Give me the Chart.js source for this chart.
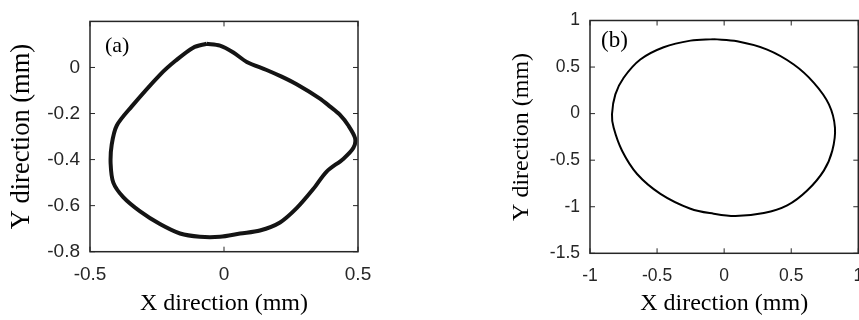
<!DOCTYPE html>
<html>
<head>
<meta charset="utf-8">
<script src="https://cdn.jsdelivr.net/npm/chart.js@4/dist/chart.umd.min.js"></script>
<style>
  html, body { margin: 0; padding: 0; background: #fff; overflow: hidden; }
  body { position: relative; width: 859px; height: 320px; }
  canvas { position: absolute; top: 0; }
  #orbitA { left: 0; }
  #orbitB { left: 430px; }
</style>
</head>
<body>
<canvas id="orbitA" width="430" height="320"></canvas>
<canvas id="orbitB" width="450" height="320"></canvas>
<script>
// (a) measured orbit, mm
var orbitAX = [-0.065, -0.015, 0.035, 0.085, 0.159, 0.215, 0.271, 0.358, 0.396, 0.432,
  0.464, 0.489, 0.483, 0.445, 0.383, 0.333, 0.271, 0.209, 0.134, 0.06,
  -0.015, -0.09, -0.164, -0.239, -0.313, -0.376, -0.413, -0.423, -0.419, -0.4,
  -0.345, -0.239, -0.18, -0.115, -0.065];
var orbitAY = [0.103, 0.095, 0.065, 0.024, -0.011, -0.04, -0.073, -0.135, -0.17, -0.205,
  -0.252, -0.307, -0.349, -0.397, -0.452, -0.528, -0.611, -0.673, -0.708, -0.721,
  -0.735, -0.735, -0.721, -0.68, -0.625, -0.563, -0.5, -0.418, -0.335, -0.252,
  -0.17, -0.032, 0.03, 0.086, 0.103];

// (b) simulated orbit, mm
var orbitBX = [-0.078, 0.097, 0.321, 0.519, 0.669, 0.781, 0.826, 0.806, 0.743, 0.619,
  0.47, 0.296, 0.084, -0.078, -0.251, -0.475, -0.649, -0.761, -0.824, -0.836,
  -0.811, -0.749, -0.625, -0.451, -0.251, -0.078];
var orbitBY = [0.80, 0.777, 0.688, 0.528, 0.331, 0.1, -0.15, -0.399, -0.612, -0.826,
  -0.986, -1.068, -1.1, -1.075, -1.021, -0.861, -0.648, -0.399, -0.15, -0.006,
  0.207, 0.385, 0.581, 0.713, 0.784, 0.80];

// axis limits and tick steps
var limitsA = { xMin: -0.5, xMax: 0.5, xStep: 0.5, yMin: -0.8, yMax: 0.2, yStep: 0.2, yLastLabel: 0 };
var limitsB = { xMin: -1, xMax: 1, xStep: 0.5, yMin: -1.5, yMax: 1, yStep: 0.5, yLastLabel: 1 };

var axisColor = '#262626';
var serif = '"Liberation Serif", "Times New Roman", serif';
var sans = '"Liberation Sans", Arial, sans-serif';

function toPoints(xs, ys) {
  return xs.map(function (x, i) { return { x: x, y: ys[i] }; });
}

// plain numbers: 1 instead of 1.0
function shortNum(v) {
  return String(Math.round(v * 100) / 100);
}

// box around the plot area with inward ticks on all four sides, plus the panel tag
var boxPlugin = {
  id: 'boxTicks',
  afterDraw: function (chart) {
    var ctx = chart.ctx, a = chart.chartArea;
    var xs = chart.scales.x, ys = chart.scales.y;
    var len = 5;
    ctx.save();
    ctx.strokeStyle = axisColor;
    ctx.lineWidth = 1.5;
    ctx.strokeRect(a.left, a.top, a.right - a.left, a.bottom - a.top);
    ctx.lineWidth = 1;
    ctx.beginPath();
    xs.ticks.forEach(function (t) {
      var px = xs.getPixelForValue(t.value);
      ctx.moveTo(px, a.bottom); ctx.lineTo(px, a.bottom - len);
      ctx.moveTo(px, a.top); ctx.lineTo(px, a.top + len);
    });
    ys.ticks.forEach(function (t) {
      var py = ys.getPixelForValue(t.value);
      ctx.moveTo(a.left, py); ctx.lineTo(a.left + len, py);
      ctx.moveTo(a.right, py); ctx.lineTo(a.right - len, py);
    });
    ctx.stroke();
    var tag = chart.options.plugins.boxTicks;
    ctx.fillStyle = '#000';
    ctx.font = tag.size + 'px ' + serif;
    ctx.textBaseline = 'middle';
    ctx.textAlign = 'left';
    ctx.fillText(tag.text, xs.getPixelForValue(tag.x), ys.getPixelForValue(tag.y));
    ctx.restore();
  }
};

function makeOrbit(id, xs, ys, lim, opts) {
  var tickFont = { family: sans, size: opts.tickSize };
  return new Chart(document.getElementById(id), {
    type: 'scatter',
    data: {
      datasets: [{
        data: toPoints(xs, ys),
        showLine: true,
        borderColor: opts.color,
        borderWidth: opts.width,
        tension: opts.tension,
        pointRadius: 0,
        fill: false
      }]
    },
    options: {
      responsive: false,
      animation: false,
      layout: { padding: opts.padding },
      plugins: {
        legend: { display: false },
        tooltip: { enabled: false },
        boxTicks: opts.tag
      },
      scales: {
        x: {
          type: 'linear',
          min: lim.xMin,
          max: lim.xMax,
          grid: { display: false, drawTicks: false },
          border: { display: false },
          ticks: { stepSize: lim.xStep, color: axisColor, font: tickFont, padding: 12, maxRotation: 0, callback: shortNum },
          title: { display: true, text: 'X direction (mm)', color: '#000', font: { family: serif, size: 24 }, padding: { top: 0, bottom: 2 } },
          afterFit: function (s) { s.height = opts.xAxisHeight; }
        },
        y: {
          type: 'linear',
          min: lim.yMin,
          max: lim.yMax,
          grid: { display: false, drawTicks: false },
          border: { display: false },
          ticks: { stepSize: lim.yStep, color: axisColor, font: tickFont, padding: 10, callback: shortNum },
          afterBuildTicks: function (s) {
            s.ticks = s.ticks.filter(function (t) { return t.value <= lim.yLastLabel + 1e-9; });
          },
          title: { display: true, text: 'Y direction (mm)', color: '#000', font: { family: serif, size: opts.yTitleSize }, padding: { top: opts.yTitlePad, bottom: 0 } },
          afterFit: function (s) { s.width = 90; }
        }
      }
    },
    plugins: [boxPlugin]
  });
}

makeOrbit('orbitA', orbitAX, orbitAY, limitsA, {
  color: '#141414',
  width: 4,
  tension: 0.3,
  tickSize: 19,
  yTitleSize: 26.5,
  yTitlePad: 6,
  padding: { left: 0, right: 72, top: 10.7, bottom: 0 },
  xAxisHeight: 68.3,
  tag: { text: '(a)', x: -0.444, y: 0.093, size: 22 }
});

makeOrbit('orbitB', orbitBX, orbitBY, limitsB, {
  color: '#000',
  width: 2,
  tension: 0.35,
  tickSize: 17.5,
  yTitleSize: 24,
  yTitlePad: 7,
  padding: { left: 70, right: 21.7, top: 19.3, bottom: 0 },
  xAxisHeight: 66.7,
  tag: { text: '(b)', x: -0.918, y: 0.777, size: 23 }
});
</script>
</body>
</html>
